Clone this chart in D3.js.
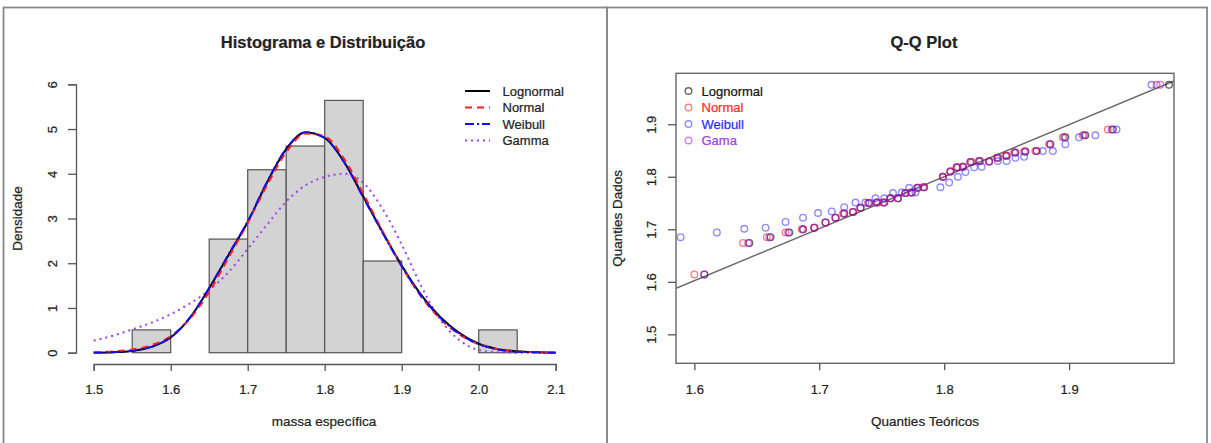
<!DOCTYPE html>
<html>
<head>
<meta charset="utf-8">
<script src="https://cdn.jsdelivr.net/npm/d3@7"></script>
<style>
  html, body { margin: 0; padding: 0; background: #fff; }
  svg { display: block; font-family: "Liberation Sans", Arial, sans-serif; }
  svg text { stroke-width: 0.22px; }
</style>
</head>
<body>
<svg id="chart" width="1211" height="443"></svg>
<script>
// ---------- Histogram data (massa específica) ----------
const binStarts = [1.55, 1.60, 1.65, 1.70, 1.75, 1.80, 1.85, 1.90, 1.95, 2.00];
const binWidth = 0.05;
const binDensity = [0.51, 0, 2.54, 4.09, 4.62, 5.64, 2.05, 0, 0, 0.51];

// ---------- Fitted density curves ----------
const curveX = [1.500, 1.525, 1.550, 1.575, 1.600, 1.625, 1.650, 1.675, 1.700, 1.725, 1.750, 1.775, 1.800,
                1.825, 1.850, 1.875, 1.900, 1.925, 1.950, 1.975, 2.000, 2.025, 2.050, 2.075, 2.100];
const lognormalY = [0.00, 0.01, 0.04, 0.13, 0.34, 0.78, 1.44, 2.18, 2.92, 3.80, 4.55, 4.92, 4.80,
                    4.27, 3.49, 2.70, 1.95, 1.30, 0.80, 0.44, 0.20, 0.08, 0.03, 0.01, 0.00];
const normalY    = [0.01, 0.03, 0.07, 0.17, 0.37, 0.76, 1.36, 2.12, 2.90, 3.74, 4.48, 4.90, 4.84,
                    4.34, 3.56, 2.72, 1.93, 1.26, 0.76, 0.41, 0.19, 0.08, 0.03, 0.01, 0.00];
const weibullY   = [0.00, 0.01, 0.04, 0.13, 0.35, 0.79, 1.45, 2.20, 2.94, 3.82, 4.56, 4.93, 4.80,
                    4.26, 3.47, 2.68, 1.93, 1.28, 0.78, 0.42, 0.19, 0.07, 0.02, 0.01, 0.00];
const gammaY     = [0.27, 0.38, 0.52, 0.67, 0.86, 1.10, 1.40, 1.80, 2.32, 2.86, 3.38, 3.74, 3.93,
                    4.00, 3.80, 3.22, 2.42, 1.50, 0.74, 0.28, 0.06, 0.01, 0.00, 0.00, 0.00];

const histXTicks = [1.5, 1.6, 1.7, 1.8, 1.9, 2.0, 2.1];
const histYTicks = [0, 1, 2, 3, 4, 5, 6];

// ---------- Q-Q plot data ----------
const normalQX = [1.600, 1.639, 1.658, 1.673, 1.686, 1.696, 1.705, 1.713, 1.719, 1.727, 1.733, 1.739, 1.747,
                  1.751, 1.757, 1.763, 1.769, 1.773, 1.778, 1.783, 1.799, 1.805, 1.811, 1.815, 1.822, 1.829,
                  1.836, 1.842, 1.849, 1.856, 1.864, 1.873, 1.884, 1.895, 1.911, 1.931, 1.970];
const normalQY = [1.614, 1.674, 1.685, 1.694, 1.700, 1.703, 1.713, 1.722, 1.730, 1.733, 1.741, 1.750, 1.751,
                  1.751, 1.759, 1.759, 1.769, 1.770, 1.779, 1.780, 1.800, 1.810, 1.818, 1.819, 1.828, 1.830,
                  1.829, 1.836, 1.840, 1.846, 1.848, 1.849, 1.862, 1.875, 1.879, 1.890, 1.975];
const lognormalQX = [1.608, 1.644, 1.661, 1.676, 1.687, 1.696, 1.705, 1.713, 1.720, 1.727, 1.733, 1.740, 1.746,
                     1.752, 1.757, 1.763, 1.769, 1.774, 1.779, 1.784, 1.799, 1.805, 1.810, 1.815, 1.821, 1.828,
                     1.836, 1.843, 1.850, 1.857, 1.865, 1.874, 1.885, 1.897, 1.913, 1.935, 1.980];
const lognormalQY = normalQY;
const gammaQX = [1.608, 1.643, 1.660, 1.675, 1.687, 1.696, 1.705, 1.713, 1.720, 1.727, 1.733, 1.740, 1.746,
                 1.752, 1.757, 1.763, 1.769, 1.774, 1.779, 1.784, 1.799, 1.805, 1.810, 1.815, 1.821, 1.828,
                 1.836, 1.843, 1.850, 1.857, 1.865, 1.874, 1.885, 1.896, 1.912, 1.934, 1.973];
const gammaQY = normalQY;
const weibullQX = [1.589, 1.618, 1.640, 1.657, 1.673, 1.687, 1.699, 1.710, 1.720, 1.729, 1.737, 1.745, 1.752,
                   1.759, 1.766, 1.772, 1.777, 1.797, 1.804, 1.811, 1.817, 1.824, 1.830, 1.843, 1.850, 1.857,
                   1.864, 1.879, 1.887, 1.897, 1.908, 1.921, 1.938, 1.966];
const weibullQY = [1.685, 1.694, 1.701, 1.703, 1.714, 1.722, 1.731, 1.734, 1.742, 1.751, 1.751, 1.759, 1.759,
                   1.769, 1.770, 1.779, 1.770, 1.780, 1.789, 1.800, 1.809, 1.818, 1.819, 1.830, 1.830, 1.836,
                   1.838, 1.849, 1.849, 1.862, 1.875, 1.879, 1.890, 1.975];
// reference line y = a + b x
const qqLineIntercept = 0.0182;
const qqLineSlope = 0.99;

const qqXTicks = [1.6, 1.7, 1.8, 1.9];
const qqYTicks = [1.5, 1.6, 1.7, 1.8, 1.9];

// ---------- drawing ----------
const svg = d3.select("#chart");
const axisColor = "#555";
const textColor = "#222";

// panel frames
svg.append("rect").attr("x", 3.5).attr("y", 7.5).attr("width", 603.5).attr("height", 450)
  .attr("fill", "none").attr("stroke", "#888").attr("stroke-width", 1.8);
svg.append("rect").attr("x", 607).attr("y", 7.5).attr("width", 600).attr("height", 450)
  .attr("fill", "none").attr("stroke", "#888").attr("stroke-width", 1.8);

// ===== Left panel: histogram =====
const xH = d3.scaleLinear().domain([1.5, 2.1]).range([93.7, 555.7]);
const yH = d3.scaleLinear().domain([0, 6]).range([352.7, 84.3]);

const gH = svg.append("g");

gH.selectAll("rect.bar").data(binStarts.map((s, i) => ({ s, d: binDensity[i] })))
  .join("rect").attr("class", "bar")
  .attr("x", d => xH(d.s)).attr("width", d => xH(d.s + binWidth) - xH(d.s))
  .attr("y", d => yH(d.d)).attr("height", d => yH(0) - yH(d.d))
  .attr("fill", "#d3d3d3").attr("stroke", "#555").attr("stroke-width", 1.2);

const lineH = ys => d3.line().x((d, i) => xH(curveX[i])).y(d => yH(d)).curve(d3.curveMonotoneX)(ys);

const curves = [
  { name: "Lognormal", ys: lognormalY, color: "#000", dash: null, width: 2 },
  { name: "Normal", ys: normalY, color: "#ff2020", dash: "7,5", width: 2 },
  { name: "Weibull", ys: weibullY, color: "#1010ff", dash: "9,3,2,3", width: 1.8 },
  { name: "Gamma", ys: gammaY, color: "#a040f0", dash: "2,4", width: 2 }
];
// draw order so the solid lognormal sits between the dashed lines
[curves[3], curves[0], curves[1], curves[2]].forEach(c => {
  gH.append("path").attr("d", lineH(c.ys)).attr("fill", "none")
    .attr("stroke", c.color).attr("stroke-width", c.width)
    .attr("stroke-dasharray", c.dash);
});

// axes (detached, R style)
const axH_x = gH.append("g").attr("transform", "translate(0,364)")
  .call(d3.axisBottom(xH).tickValues(histXTicks).tickFormat(d3.format(".1f")).tickSize(7));
const axH_y = gH.append("g").attr("transform", "translate(76,0)")
  .call(d3.axisLeft(yH).tickValues(histYTicks).tickFormat(d3.format("d")).tickSize(8));

function styleAxis(ax, vertical, off) {
  ax.select(".domain").attr("stroke", axisColor).attr("stroke-width", 1.3);
  ax.selectAll(".tick line").attr("stroke", axisColor).attr("stroke-width", 1.3);
  ax.selectAll(".tick text").attr("fill", textColor).attr("stroke", textColor).style("font-size", "13px")
    .style("font-family", "'Liberation Sans', Arial, sans-serif");
  if (vertical) {
    ax.selectAll(".tick text").attr("x", null).attr("dy", null)
      .attr("text-anchor", "middle").attr("transform", `translate(${off},0) rotate(-90)`);
  } else {
    ax.selectAll(".tick text").attr("y", off).attr("dy", null);
  }
}
styleAxis(axH_x, false, 30);
styleAxis(axH_y, true, -19.5);

function label(sel) { return sel.attr("fill", textColor).attr("stroke", textColor); }

// title and labels
label(svg.append("text")).attr("x", 323).attr("y", 47.5).attr("text-anchor", "middle")
  .attr("font-weight", "bold").attr("font-size", 16.5).text("Histograma e Distribuição");
label(svg.append("text")).attr("transform", "translate(22,218.5) rotate(-90)").attr("text-anchor", "middle")
  .attr("font-size", 13.5).text("Densidade");
label(svg.append("text")).attr("x", 324).attr("y", 426).attr("text-anchor", "middle")
  .attr("font-size", 13.5).text("massa específica");

// legend
const legH = svg.append("g");
const legRows = [91, 107.5, 124, 140.5];
curves.forEach((c, i) => {
  legH.append("line").attr("x1", 465).attr("x2", 490).attr("y1", legRows[i]).attr("y2", legRows[i])
    .attr("stroke", c.color).attr("stroke-width", c.width).attr("stroke-dasharray", c.dash);
  label(legH.append("text")).attr("x", 502.5).attr("y", legRows[i] + 4.5).attr("font-size", 13)
    .text(c.name);
});

// ===== Right panel: Q-Q plot =====
const xQ = d3.scaleLinear().domain([1.5853, 1.984]).range([676, 1174]);
const yQ = d3.scaleLinear().domain([1.4448, 1.997]).range([363.3, 73.3]);
const gQ = svg.append("g");

gQ.append("clipPath").attr("id", "qqclip").append("rect")
  .attr("x", 676).attr("y", 73.3).attr("width", 498).attr("height", 290);

gQ.append("line").attr("clip-path", "url(#qqclip)")
  .attr("x1", xQ(1.5853)).attr("y1", yQ(qqLineIntercept + qqLineSlope * 1.5853))
  .attr("x2", xQ(1.984)).attr("y2", yQ(qqLineIntercept + qqLineSlope * 1.984))
  .attr("stroke", "#666").attr("stroke-width", 1.4);

const qqSeries = [
  { name: "Lognormal", xs: lognormalQX, ys: lognormalQY, color: "rgba(0,0,0,0.6)", text: "#111" },
  { name: "Normal", xs: normalQX, ys: normalQY, color: "rgba(255,0,0,0.5)", text: "#ff2a2a" },
  { name: "Weibull", xs: weibullQX, ys: weibullQY, color: "rgba(0,0,255,0.45)", text: "#2a2aff" },
  { name: "Gama", xs: gammaQX, ys: gammaQY, color: "rgba(160,32,240,0.55)", text: "#a040e8" }
];
qqSeries.forEach(s => {
  gQ.append("g").selectAll("circle").data(s.xs.map((x, i) => [x, s.ys[i]])).join("circle")
    .attr("cx", d => xQ(d[0])).attr("cy", d => yQ(d[1])).attr("r", 3.3)
    .attr("fill", "none").attr("stroke", s.color).attr("stroke-width", 1.4);
});

// box
gQ.append("rect").attr("x", 676).attr("y", 73.3).attr("width", 498).attr("height", 290)
  .attr("fill", "none").attr("stroke", "#666").attr("stroke-width", 1.4);

const axQ_x = gQ.append("g").attr("transform", "translate(0,363.3)")
  .call(d3.axisBottom(xQ).tickValues(qqXTicks).tickFormat(d3.format(".1f")).tickSize(7).tickSizeOuter(0));
const axQ_y = gQ.append("g").attr("transform", "translate(676,0)")
  .call(d3.axisLeft(yQ).tickValues(qqYTicks).tickFormat(d3.format(".1f")).tickSize(8).tickSizeOuter(0));
axQ_x.select(".domain").remove();
axQ_y.select(".domain").remove();
styleAxis(axQ_x, false, 30.5);
styleAxis(axQ_y, true, -20);

label(svg.append("text")).attr("x", 924).attr("y", 47.5).attr("text-anchor", "middle")
  .attr("font-weight", "bold").attr("font-size", 16.5).text("Q-Q Plot");
label(svg.append("text")).attr("transform", "translate(622,218.3) rotate(-90)").attr("text-anchor", "middle")
  .attr("font-size", 13.5).text("Quanties Dados");
label(svg.append("text")).attr("x", 925).attr("y", 426).attr("text-anchor", "middle")
  .attr("font-size", 13.5).text("Quanties Teóricos");

// legend
qqSeries.forEach((s, i) => {
  gQ.append("circle").attr("cx", 688.5).attr("cy", legRows[i]).attr("r", 3.3)
    .attr("fill", "none").attr("stroke", s.color).attr("stroke-width", 1.4);
  gQ.append("text").attr("x", 701.5).attr("y", legRows[i] + 4.5).attr("font-size", 13)
    .attr("fill", s.text).attr("stroke", s.text).text(s.name);
});
</script>
</body>
</html>
